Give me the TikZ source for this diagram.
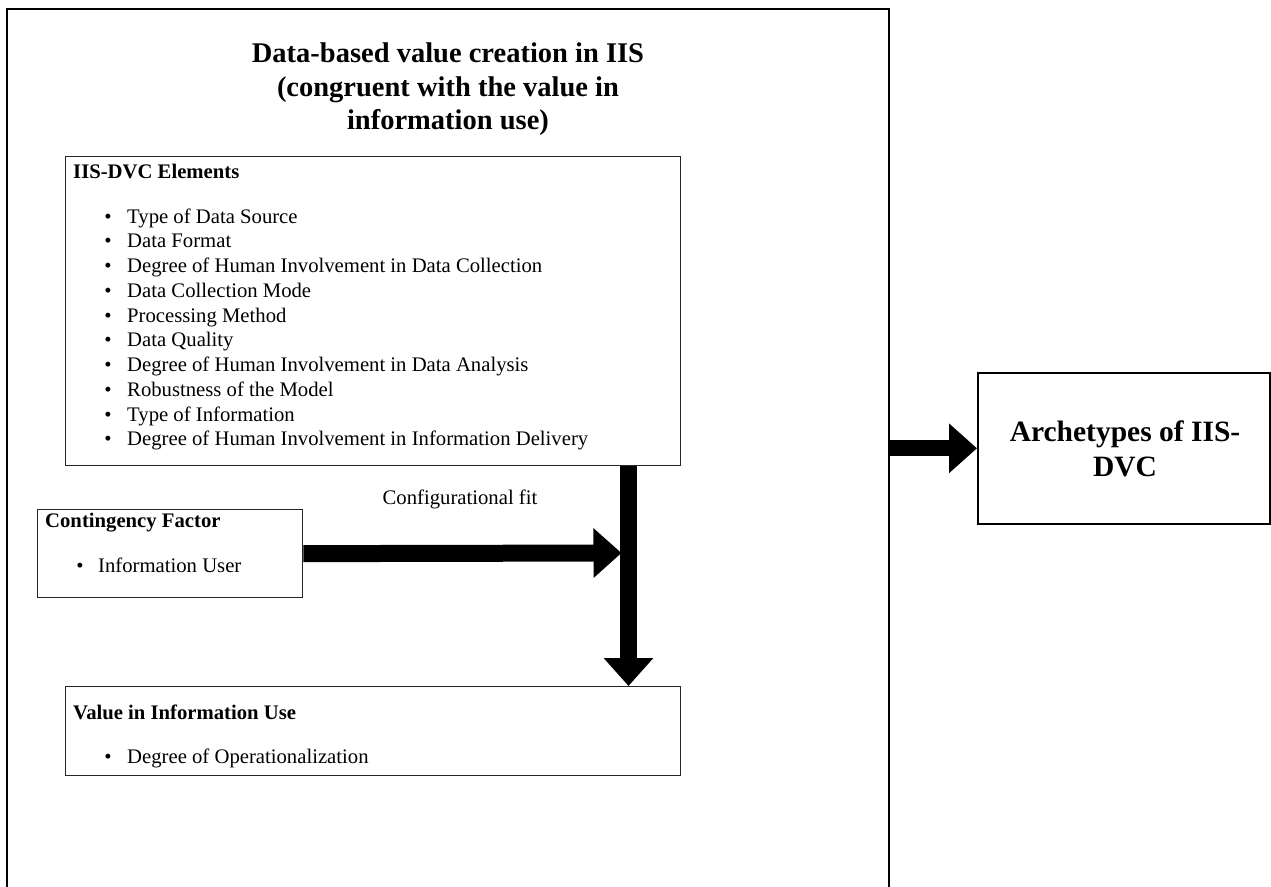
\documentclass[tikz,border=0pt]{standalone}
\usepackage{fontspec}
\setmainfont{Liberation Serif}
\usetikzlibrary{arrows.meta}
\begin{document}
\begin{tikzpicture}[x=1pt,y=-1pt,
  box/.style={draw=black!85, line width=1.3pt, anchor=north west, inner sep=0pt},
  bodytext/.style={anchor=base west, inner sep=0pt, font=\fontsize{20.7}{24}\selectfont},
  headtext/.style={anchor=base west, inner sep=0pt, font=\fontsize{20.7}{24}\selectfont\bfseries},
  bigtext/.style={anchor=base, inner sep=0pt, font=\fontsize{29.5}{34}\selectfont\bfseries},
  titletext/.style={anchor=base, inner sep=0pt, font=\fontsize{28.5}{34}\selectfont\bfseries},
  bulletmark/.style={anchor=base, inner sep=0pt, font=\fontsize{20.7}{24}\selectfont},
  fatarrow/.style={line width=17pt, -{Triangle[length=28pt,width=48pt]}}]
\useasboundingbox (0,0) rectangle (1271,886);

% outer frame (bottom edge lies below the page)
\node[box, draw=black, line width=2pt, minimum width=882pt, minimum height=900pt] (outer) at (6,8) {};
\node[titletext] (title1) at (448,62) {Data-based value creation in IIS};
\node[titletext] (title2) at (448,96) {(congruent with the value in};
\node[titletext] (title3) at (448,129) {information use)};

% IIS-DVC elements
\node[box, minimum width=615pt, minimum height=309pt] (iis) at (65,156) {};
\node[headtext] (iishead) at (73,178) {IIS-DVC Elements};
\foreach \t [count=\i from 0] in {Type of Data Source, Data Format,
  Degree of Human Involvement in Data Collection, Data Collection Mode,
  Processing Method, Data Quality, Degree of Human Involvement in Data Analysis,
  Robustness of the Model, Type of Information,
  Degree of Human Involvement in Information Delivery}{
  \node[bulletmark] (b\i) at (108,{223+24.75*\i}) {\textbullet};
  \node[bodytext] (it\i) at (127,{223+24.75*\i}) {\t};
}

% contingency factor
\node[box, minimum width=265pt, minimum height=88pt] (cont) at (37,509) {};
\node[headtext] (conthead) at (45,527) {Contingency Factor};
\node[bulletmark] (cb) at (80,572) {\textbullet};
\node[bodytext] (ct) at (98,572) {Information User};

% value in information use
\node[box, minimum width=615pt, minimum height=89pt] (value) at (65,686) {};
\node[headtext] (valhead) at (73,719) {Value in Information Use};
\node[bulletmark] (vb) at (108,763) {\textbullet};
\node[bodytext] (vt) at (127,763) {Degree of Operationalization};

% archetypes
\node[box, draw=black, line width=1.6pt, minimum width=292pt, minimum height=151pt] (arch) at (977,372) {};
\node[bigtext] (arch1) at (1125,441) {Archetypes of IIS-};
\node[bigtext] (arch2) at (1125,476) {DVC};

% connectors
\coordinate (vx) at (628.5,0);
\coordinate (joint) at (621.5,553);
\draw[fatarrow] (iis.south -| vx) -- (value.north -| vx);
\draw[fatarrow] (cont.east) -- (joint);
\node[anchor=base, inner sep=0pt, font=\fontsize{20.7}{24}\selectfont] (fitlabel) at (460,504) {Configurational fit};
\draw[fatarrow, line width=16pt] (outer.east |- arch.west) -- (arch.west);
\end{tikzpicture}
\end{document}
